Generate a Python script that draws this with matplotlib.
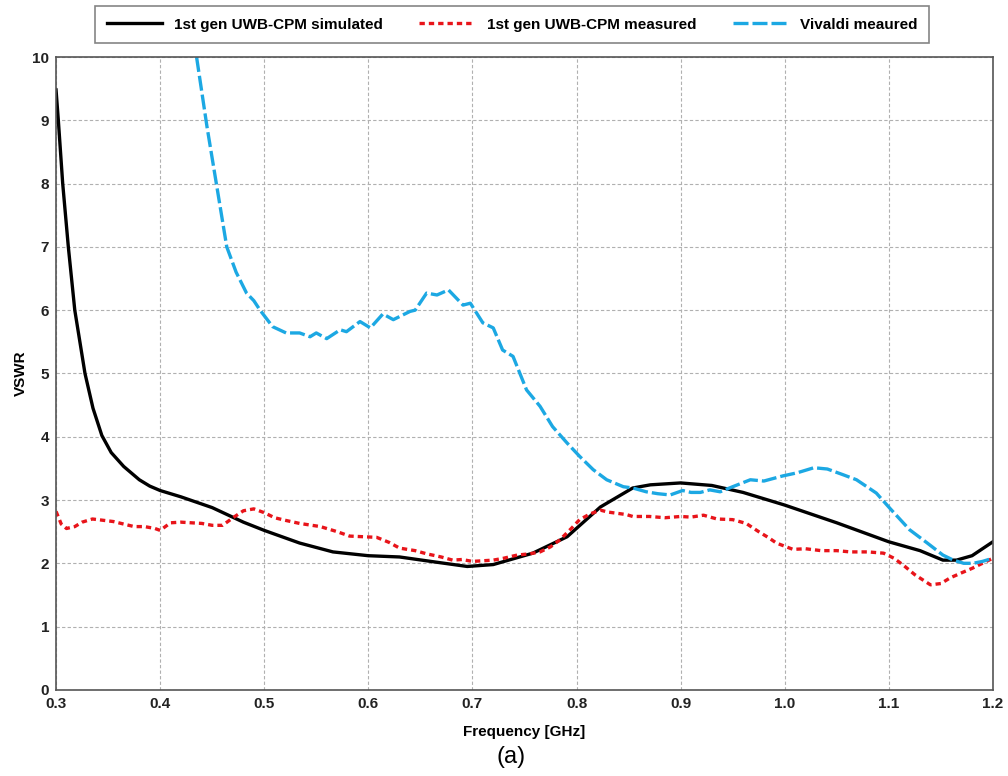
import matplotlib.pyplot as plt

plt.rcParams['font.family'] = ['Liberation Sans', 'DejaVu Sans']

# 1st gen UWB-CPM simulated
sim_f = [0.3, 0.3022, 0.3064, 0.3118, 0.318, 0.3278, 0.3355, 0.344, 0.353, 0.365, 0.38,
         0.39, 0.4, 0.42, 0.45, 0.48, 0.5, 0.534, 0.566, 0.6, 0.63, 0.66, 0.695, 0.72,
         0.758, 0.791, 0.823, 0.854, 0.871, 0.9, 0.93, 0.96, 1.0, 1.05, 1.1, 1.13, 1.152,
         1.165, 1.18, 1.2]
sim_v = [9.48, 9.0, 8.0, 7.0, 6.0, 5.0, 4.45, 4.02, 3.75, 3.53, 3.32,
         3.22, 3.15, 3.05, 2.88, 2.65, 2.52, 2.32, 2.18, 2.12, 2.10, 2.03, 1.95, 1.98,
         2.16, 2.42, 2.89, 3.19, 3.24, 3.27, 3.23, 3.12, 2.92, 2.64, 2.34, 2.2, 2.05,
         2.05, 2.12, 2.34]

# 1st gen UWB-CPM measured
meas_f = [0.3, 0.305, 0.31, 0.318, 0.325, 0.335, 0.345, 0.355, 0.365, 0.375, 0.385, 0.395, 0.4,
          0.41, 0.42, 0.43, 0.44, 0.45, 0.46, 0.47, 0.48, 0.49, 0.5, 0.51, 0.52, 0.534, 0.554,
          0.57, 0.582, 0.595, 0.608, 0.62, 0.63, 0.645, 0.656, 0.67, 0.681, 0.69, 0.7, 0.71,
          0.72, 0.73, 0.743, 0.755, 0.765, 0.775, 0.784, 0.795, 0.803, 0.813, 0.823, 0.83,
          0.839, 0.848, 0.854, 0.87, 0.885, 0.9, 0.91, 0.922, 0.935, 0.95, 0.963, 0.975,
          0.985, 0.992, 1.008, 1.02, 1.035, 1.05, 1.063, 1.08, 1.095, 1.105, 1.114, 1.125,
          1.14, 1.15, 1.159, 1.17, 1.18, 1.19, 1.2]
meas_v = [2.82, 2.62, 2.55, 2.58, 2.65, 2.7, 2.68, 2.66, 2.62, 2.58, 2.58, 2.55, 2.52,
          2.64, 2.65, 2.64, 2.63, 2.6, 2.6, 2.72, 2.83, 2.86, 2.8, 2.72, 2.68, 2.63, 2.58,
          2.5, 2.43, 2.42, 2.41, 2.33, 2.24, 2.2, 2.15, 2.1, 2.05, 2.06, 2.03, 2.04,
          2.05, 2.08, 2.13, 2.15, 2.18, 2.26, 2.37, 2.55, 2.69, 2.78, 2.84, 2.81,
          2.79, 2.77, 2.74, 2.74, 2.72, 2.74, 2.73, 2.76, 2.7, 2.69, 2.63, 2.5,
          2.4, 2.32, 2.22, 2.23, 2.2, 2.2, 2.18, 2.18, 2.16, 2.08, 1.97, 1.82,
          1.66, 1.68, 1.77, 1.85, 1.92, 2.0, 2.08]

# Vivaldi measured
viv_f = [0.435, 0.445, 0.454, 0.464, 0.473, 0.483, 0.49, 0.496, 0.508, 0.521, 0.534, 0.544,
         0.55, 0.56, 0.573, 0.579, 0.592, 0.602, 0.614, 0.624, 0.64, 0.645, 0.656, 0.666,
         0.677, 0.691, 0.698, 0.71, 0.72, 0.729, 0.739, 0.752, 0.765, 0.777, 0.791, 0.803,
         0.816, 0.829, 0.845, 0.854, 0.867, 0.878, 0.89, 0.902, 0.91, 0.919, 0.928, 0.938,
         0.95, 0.967, 0.98, 0.998, 1.012, 1.028, 1.041, 1.056, 1.069, 1.088, 1.101, 1.12,
         1.137, 1.152, 1.162, 1.172, 1.181, 1.19, 1.2]
viv_v = [10.0, 8.9, 8.0, 7.0, 6.6, 6.27, 6.15, 6.0, 5.74, 5.64, 5.64, 5.58,
         5.64, 5.55, 5.69, 5.66, 5.82, 5.72, 5.94, 5.85, 5.98, 6.0, 6.27, 6.24,
         6.32, 6.08, 6.11, 5.8, 5.72, 5.37, 5.27, 4.74, 4.48, 4.16, 3.9, 3.69,
         3.48, 3.32, 3.21, 3.19, 3.13, 3.1, 3.08, 3.15, 3.12, 3.12, 3.16, 3.13,
         3.21, 3.32, 3.3, 3.38, 3.43, 3.51, 3.49, 3.40, 3.32, 3.11, 2.87, 2.53,
         2.32, 2.13, 2.05, 2.0, 2.0, 2.03, 2.08]

x_ticks = [0.3, 0.4, 0.5, 0.6, 0.7, 0.8, 0.9, 1.0, 1.1, 1.2]

fig = plt.figure(figsize=(10.08, 7.76), dpi=100)
ax = fig.add_axes([0.0556, 0.111, 0.9294, 0.8155])

ax.plot(sim_f, sim_v, color='black', lw=2.4, label='1st gen UWB-CPM simulated')
ax.plot(meas_f, meas_v, color='#e8141a', lw=2.4, dashes=(1.6, 1.2),
        label='1st gen UWB-CPM measured')
ax.plot(viv_f, viv_v, color='#1ca8e3', lw=2.4, dashes=(4.5, 1.2), label='Vivaldi meaured')

ax.set_xlim(0.3, 1.2)
ax.set_ylim(0, 10)
ax.set_xticks(x_ticks)
ax.set_xticklabels([f'{t:.1f}' for t in x_ticks])
ax.set_yticks(range(0, 11))
ax.tick_params(length=0, labelsize=11)
ax.tick_params(axis='x', pad=5)
ax.tick_params(axis='y', pad=5)
for lab in ax.get_xticklabels() + ax.get_yticklabels():
    lab.set_fontweight('bold')
    lab.set_color('#222222')
ax.grid(True, color='#b0b0b0', ls=(0, (3, 2)), lw=0.8)
for s in ax.spines.values():
    s.set_color('#555555')
    s.set_linewidth(1.2)

ax.set_xlabel('Frequency [GHz]', fontsize=11, fontweight='bold', labelpad=10)
ax.set_ylabel('VSWR', fontsize=11, fontweight='bold', labelpad=3)

leg = fig.legend(loc='center', bbox_to_anchor=(0.508, 0.968), ncol=3, fancybox=False,
                 edgecolor='#666666', handlelength=3.6, columnspacing=2.4,
                 prop={'weight': 'bold', 'size': 11}, borderpad=0.75)
leg.get_frame().set_linewidth(1.2)

fig.text(0.507, 0.025, '(a)', ha='center', va='center', fontsize=17)

fig.savefig('out.png', dpi=100)
